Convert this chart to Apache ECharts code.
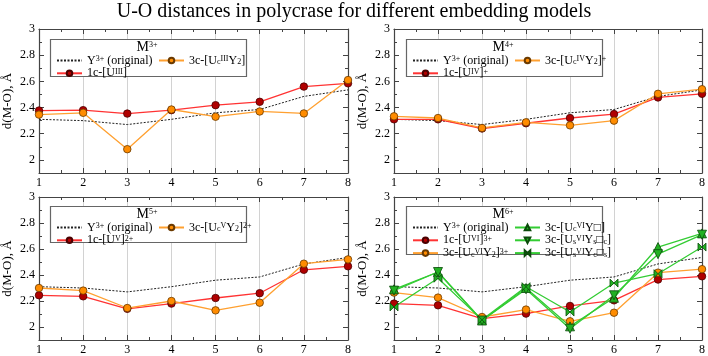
<!DOCTYPE html>
<html>
<head>
<meta charset="utf-8">
<script src="https://cdn.jsdelivr.net/npm/echarts@6/dist/echarts.min.js"></script>
<style>
  html, body { margin: 0; background: #fff; }
  #chart { width: 708px; height: 356px; }
</style>
</head>
<body>
<div id="chart"></div>
<script>
// site index on the x axis
var sites = [1, 2, 3, 4, 5, 6, 7, 8];
// Y3+ original distances (same in every panel)
var yOriginal = [2.31, 2.30, 2.27, 2.31, 2.36, 2.385, 2.485, 2.535];
// M3+
var m3_1c = [2.377, 2.38, 2.354, 2.38, 2.418, 2.444, 2.56, 2.585];
var m3_3c = [2.346, 2.36, 2.082, 2.385, 2.33, 2.37, 2.355, 2.61];
// M4+
var m4_1c = [2.31, 2.31, 2.24, 2.28, 2.32, 2.35, 2.477, 2.505];
var m4_3c = [2.333, 2.32, 2.244, 2.287, 2.264, 2.30, 2.505, 2.54];
// M5+
var m5_1c = [2.244, 2.236, 2.14, 2.18, 2.223, 2.26, 2.44, 2.467];
var m5_3c = [2.30, 2.28, 2.146, 2.20, 2.128, 2.187, 2.487, 2.52];
// M6+
var m6_1c = [2.18, 2.167, 2.064, 2.103, 2.162, 2.205, 2.365, 2.39];
var m6_3c = [2.265, 2.226, 2.077, 2.134, 2.044, 2.11, 2.418, 2.445];
var m6_3cVac = [2.29, 2.423, 2.05, 2.30, 2.005, 2.225, 2.615, 2.72];
var m6_3cVacC = [2.28, 2.423, 2.05, 2.29, 1.987, 2.244, 2.56, 2.71];
var m6_3cVacS = [2.154, 2.375, 2.055, 2.31, 2.115, 2.338, 2.41, 2.615];
// y tick labels
var yMajor = [2, 2.2, 2.4, 2.6, 2.8, 3];
var yMinor = [1.9, 2.1, 2.3, 2.5, 2.7, 2.9];

var FONT = '"Liberation Serif", "DejaVu Serif", serif';
var AXIS = '#444';
var RED = { line: '#ff3333', fill: '#b00000', border: '#4a0000' };
var ORANGE = { line: '#ffa030', fill: '#ff8c00', border: '#6a3a00' };
var GREEN = { line: '#33cc33', fill: '#22b022', border: '#0a4a0a' };
var BOWTIE = 'path://M0,0L0,10L5,5Z M10,0L10,10L5,5Z';

// rich-text labels for legend entries
var labels = {
  orig: 'Y{sup|3+} (original)',
  m3_1c: '1c-[U{sup|III}]',
  m3_3c: '3c-[U{sub|c}{sup|III}Y{sub|2}]',
  m4_1c: '1c-[U{sup|IV}]{sup|+}',
  m4_3c: '3c-[U{sub|c}{sup|IV}Y{sub|2}]{sup|+}',
  m5_1c: '1c-[U{sup|V}]{sup|2+}',
  m5_3c: '3c-[U{sub|c}{sup|V}Y{sub|2}]{sup|2+}',
  m6_1c: '1c-[U{sup|VI}]{sup|3+}',
  m6_3c: '3c-[U{sub|c}{sup|VI}Y{sub|2}]{sup|3+}',
  m6_3cVac: '3c-[U{sub|c}{sup|VI}Y\u25a1]',
  m6_3cVacC: '3c-[U{sub|s}{sup|VI}Y{sub|s}\u25a1{sub|c}]',
  m6_3cVacS: '3c-[U{sub|s}{sup|VI}Y{sub|c}\u25a1{sub|s}]'
};
var rich = {
  sup: { fontSize: 8, fontFamily: FONT, verticalAlign: 'top', lineHeight: 11, color: '#000' },
  sub: { fontSize: 8, fontFamily: FONT, verticalAlign: 'bottom', lineHeight: 11, color: '#000' }
};

var panels = [
  { left: 38, top: 29, width: 310, height: 144, title: 'M{sup|3+}', boxH: 37,
    col1: [['orig3', yOriginal, 'orig'], ['m3_1c', m3_1c]], col2: [['m3_3c', m3_3c]] },
  { left: 394, top: 29, width: 308, height: 144, title: 'M{sup|4+}', boxH: 37,
    col1: [['orig4', yOriginal, 'orig'], ['m4_1c', m4_1c]], col2: [['m4_3c', m4_3c]] },
  { left: 38, top: 197, width: 310, height: 144, title: 'M{sup|5+}', boxH: 36,
    col1: [['orig5', yOriginal, 'orig'], ['m5_1c', m5_1c]], col2: [['m5_3c', m5_3c]] },
  { left: 394, top: 197, width: 308, height: 144, title: 'M{sup|6+}', boxH: 48,
    col1: [['orig6', yOriginal, 'orig'], ['m6_1c', m6_1c], ['m6_3c', m6_3c]],
    col2: [['m6_3cVac', m6_3cVac], ['m6_3cVacC', m6_3cVacC], ['m6_3cVacS', m6_3cVacS]] }
];

function styleFor(key) {
  if (key === 'orig') return { color: '#222', symbol: 'none', lineStyle: { color: '#222', width: 1, type: [2, 1.5] } };
  var c, sym = 'circle', size = 7.5, rot = 0;
  if (/_1c$/.test(key)) c = RED;
  else if (/_3c$/.test(key)) c = ORANGE;
  else {
    c = GREEN; size = 9;
    if (key === 'm6_3cVac') sym = 'triangle';
    else if (key === 'm6_3cVacC') { sym = 'triangle'; rot = 180; }
    else { sym = BOWTIE; size = 8; }
  }
  return {
    color: c.fill, symbol: sym, symbolSize: size, symbolRotate: rot,
    lineStyle: { color: c.line, width: 1.3 },
    itemStyle: { color: c.fill, borderColor: c.border, borderWidth: 0.8 }
  };
}

var grid = [], xAxis = [], yAxis = [], series = [], legend = [], graphic = [];
var axisLabel = { color: '#000', fontFamily: FONT, fontSize: 12 };

panels.forEach(function (p, i) {
  grid.push({ left: p.left, top: p.top, width: p.width, height: p.height });
  var xBase = {
    type: 'value', gridIndex: i, min: 1, max: 8, interval: 1,
    axisLine: { lineStyle: { color: AXIS, width: 1.2 } },
    axisTick: { inside: true, length: 5, lineStyle: { color: AXIS } },
    minorTick: { show: true, splitNumber: 2, length: 3, lineStyle: { color: AXIS } }
  };
  xAxis.push(Object.assign({}, xBase, {
    position: 'bottom',
    axisLabel: Object.assign({ margin: 4 }, axisLabel),
    splitLine: { show: true, lineStyle: { color: '#d2d2d2', width: 1 } }
  }));
  xAxis.push(Object.assign({}, xBase, {
    position: 'top', axisLabel: { show: false }, splitLine: { show: false }
  }));
  var yBase = {
    type: 'value', gridIndex: i, min: 1.9, max: 3, splitLine: { show: false }
  };
  yAxis.push(Object.assign({}, yBase, {
    position: 'left', offset: 0,
    name: 'd(M-O), \u00c5', nameLocation: 'middle', nameGap: 25,
    nameTextStyle: { color: '#000', fontFamily: FONT, fontSize: 13 },
    axisLine: { show: true, lineStyle: { color: AXIS, width: 1.2 } },
    axisTick: { show: true, inside: true, length: 5, customValues: yMajor, lineStyle: { color: AXIS } },
    axisLabel: Object.assign({ margin: 4, customValues: yMajor }, axisLabel)
  }));
  yAxis.push(Object.assign({}, yBase, {
    position: 'right', offset: 0,
    axisLine: { show: true, lineStyle: { color: AXIS, width: 1.2 } },
    axisTick: { show: true, inside: true, length: 5, customValues: yMajor, lineStyle: { color: AXIS } },
    axisLabel: { show: false }
  }));
  ['left', 'right'].forEach(function (pos) {
    yAxis.push(Object.assign({}, yBase, {
      position: pos, offset: 0,
      axisLine: { show: false },
      axisTick: { show: true, inside: true, length: 3, customValues: yMinor, lineStyle: { color: AXIS } },
      axisLabel: { show: false }
    }));
  });

  var dx = p.left - 38;
  var boxTop = 39.5 + (i >= 2 ? 167 : 0);
  graphic.push({
    type: 'rect', z: 50,
    shape: { x: 50.5 + dx, y: boxTop, width: 196, height: p.boxH },
    style: { fill: '#fff', stroke: '#666', lineWidth: 1.2 }
  });
  graphic.push({
    type: 'text', z: 51, x: 147 + dx, y: boxTop + 8,
    style: { text: p.title, rich: { sup: { fontSize: 8, fontFamily: FONT, verticalAlign: 'top' } },
             fontSize: 14, fontFamily: FONT, fill: '#000', align: 'center', verticalAlign: 'middle' }
  });

  [p.col1, p.col2].forEach(function (col, ci) {
    var names = [];
    col.forEach(function (s) {
      var key = s[2] || s[0];
      var st = styleFor(key);
      names.push(key === 'orig' ? { name: s[0], itemStyle: { opacity: 0 } } : s[0]);
      series.push(Object.assign({
        type: 'line', name: s[0], xAxisIndex: 2 * i, yAxisIndex: 4 * i,
        data: sites.map(function (x, k) { return [x, s[1][k]]; }),
        showSymbol: st.symbol !== 'none', z: 3, animation: false
      }, st));
    });
    legend.push({
      data: names, orient: 'vertical', selectedMode: false, z: 60,
      left: (ci === 0 ? 51 : 153) + dx, top: boxTop + 10,
      itemWidth: 25, itemHeight: 7, itemGap: 0.8,
      textStyle: { color: '#000', fontFamily: FONT, fontSize: 12, lineHeight: 11, rich: rich },
      formatter: function (name) {
        var k = name.indexOf('orig') === 0 ? 'orig' : name;
        return labels[k];
      }
    });
  });
});

graphic.push({
  type: 'text', x: 354, y: 12,
  style: { text: 'U-O distances in polycrase for different embedding models',
           fontSize: 20, fontFamily: FONT, fill: '#000', align: 'center', verticalAlign: 'middle' }
});

var chart = echarts.init(document.getElementById('chart'), null, { renderer: 'canvas' });
chart.setOption({
  animation: false,
  backgroundColor: '#fff',
  grid: grid,
  xAxis: xAxis,
  yAxis: yAxis,
  legend: legend,
  graphic: graphic,
  series: series
});
</script>
</body>
</html>
